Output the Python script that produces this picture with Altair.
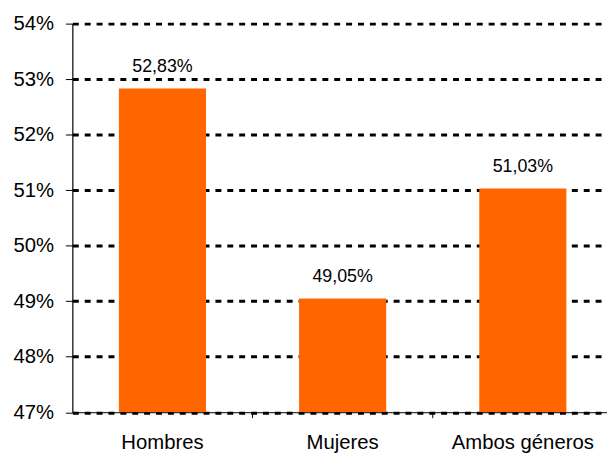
import altair as alt
import pandas as pd

categories = ["Hombres", "Mujeres", "Ambos géneros"]
values = [52.83, 49.05, 51.03]
y_ticks = [47, 48, 49, 50, 51, 52, 53, 54]

labels = [f"{v:.2f}%".replace(".", ",") for v in values]
df = pd.DataFrame({"cat": categories, "val": values, "label": labels})

FONT = "Liberation Sans"

x = alt.X(
    "cat:N", sort=categories, title=None,
    scale=alt.Scale(paddingInner=0.5165, paddingOuter=0.2418, align=0.534),
    axis=alt.Axis(labelAngle=0, ticks=False,
                  domainColor="black", labelFontSize=20.5, labelFont=FONT,
                  labelColor="black", labelPadding=21, grid=False,
                  domainWidth=1, zindex=1),
)
y = alt.Y(
    "val:Q", title=None,
    scale=alt.Scale(domain=[y_ticks[0], y_ticks[-1]], nice=False, zero=False),
    axis=alt.Axis(values=y_ticks, labelExpr="datum.value + '%'", grid=True,
                  gridColor="black", gridDash=[6, 6], gridWidth=3, gridOpacity=1,
                  tickSize=7, tickColor="black", tickWidth=1,
                  domainColor="black", domainWidth=1.2,
                  labelFontSize=20.5, labelFont=FONT, labelColor="black",
                  labelPadding=12),
)

bars = alt.Chart(df).mark_bar(color="#FF6600").encode(
    x=x, y=y, y2=alt.datum(y_ticks[0])
)
text = alt.Chart(df).mark_text(
    baseline="alphabetic", dy=-17, fontSize=18, font=FONT, color="black"
).encode(x=alt.X("cat:N", sort=categories), y=alt.Y("val:Q"), text="label:N")

# category-boundary tick marks below the x axis (midway between bars)
ticks = alt.Chart(df).mark_rule(color="black", strokeWidth=1, xOffset=47, y2Offset=6).encode(
    x=alt.X("cat:N", sort=categories, bandPosition=1),
    y=alt.datum(y_ticks[0]),
    y2=alt.datum(y_ticks[0]),
)

chart = alt.layer(bars, text, ticks).properties(
    width=540, height=392.5,
    padding={"left": 65, "top": 13.5, "right": 0, "bottom": 48},
    autosize="none",
).configure_view(stroke=None)

chart.save("out.html", embed_options={"renderer": "svg", "actions": False})
